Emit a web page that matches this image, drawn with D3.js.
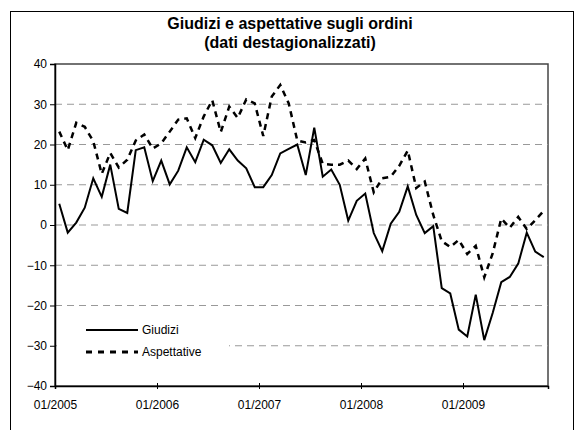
<!DOCTYPE html>
<html>
<head>
<meta charset="utf-8">
<script src="https://cdn.jsdelivr.net/npm/d3@7"></script>
<style>
  body { margin: 0; background: #fff; }
  svg { display: block; font-family: "Liberation Sans", Arial, sans-serif; }
</style>
</head>
<body>
<div id="chart"></div>
<script>
"use strict";

// Monthly series, 01/2005 - 10/2009
var startMonth = new Date(2005, 0, 1);
var endMonth = new Date(2009, 10, 1);

var giudizi = [
  5.3, -1.9, 0.6, 4.3, 11.6, 7, 15, 4, 3, 18.6, 19.3, 10.9,
  16, 10.1, 13.5, 19.3, 15.6, 21.2, 19.8, 15.4, 18.8, 16, 14.1, 9.4,
  9.4, 12.4, 17.8, 18.9, 20, 12.4, 24.2, 12, 13.8, 10, 1.1, 6,
  7.8, -2, -6.5, 0.3, 3.3, 9.6, 2.5, -2, -0.3, -15.7, -17, -26,
  -27.7, -17.3, -28.6, -21.8, -14.2, -12.9, -9.6, -1.9, -6.6, -8
];

var aspettative = [
  23.2, 18.6, 25.4, 24.4, 20.8, 12.7, 17.9, 14.3, 16.2, 21, 22.5, 19,
  20.3, 23.2, 26.2, 26.5, 21.6, 27, 31, 23.1, 29.4, 26.6, 31.2, 30.2,
  22.1, 31.9, 34.8, 30.2, 21, 20.5, 21.1, 15.2, 15, 15, 16, 13.9,
  16.5, 8.1, 11.6, 12, 14.7, 18.5, 9.2, 10.8, 2.5, -4, -5.5, -3.7,
  -7.2, -5.2, -13, -7, 1.6, -0.7, 2, -1, 1.2, 3.5
];

var yTicks = [-40, -30, -20, -10, 0, 10, 20, 30, 40];
var xTickLabels = ["01/2005", "01/2006", "01/2007", "01/2008", "01/2009"];
var seriesNames = ["Giudizi", "Aspettative"];

var width = 581, height = 430;
var margin = { top: 64, right: 33, bottom: 44, left: 55 };

var months = d3.timeMonth.range(startMonth, endMonth);
var fmt = d3.timeFormat("%m/%Y");

var svg = d3.select("#chart").append("svg")
  .attr("width", width)
  .attr("height", height);

// outer chart frame
svg.append("rect")
  .attr("x", 10.5).attr("y", 11.5)
  .attr("width", 563).attr("height", 430)
  .attr("fill", "none").attr("stroke", "#000");

svg.append("text")
  .attr("x", 290).attr("y", 29)
  .attr("text-anchor", "middle")
  .attr("font-size", 16).attr("font-weight", "bold")
  .text("Giudizi e aspettative sugli ordini");

svg.append("text")
  .attr("x", 290).attr("y", 48)
  .attr("text-anchor", "middle")
  .attr("font-size", 16).attr("font-weight", "bold")
  .text("(dati destagionalizzati)");

var x = d3.scaleLinear()
  .domain([0, months.length])
  .range([margin.left, width - margin.right]);

var y = d3.scaleLinear()
  .domain([-40, 40])
  .range([height - margin.bottom, margin.top]);

// plot area border
svg.append("rect")
  .attr("x", x(0)).attr("y", y(40))
  .attr("width", x(months.length) - x(0))
  .attr("height", y(-40) - y(40))
  .attr("fill", "none").attr("stroke", "#444").attr("stroke-width", 1.5);

// gridlines
svg.append("g")
  .selectAll("line")
  .data(yTicks.filter(function(d) { return d > -40 && d < 40; }))
  .enter().append("line")
  .attr("x1", x(0)).attr("x2", x(months.length))
  .attr("y1", function(d) { return y(d); })
  .attr("y2", function(d) { return y(d); })
  .attr("stroke", "#999")
  .attr("stroke-dasharray", "7,5");

var yAxis = svg.append("g")
  .attr("transform", "translate(" + x(0) + ",0)")
  .call(d3.axisLeft(y).tickValues(yTicks).tickSize(5).tickFormat(d3.format("d")));

var janIdx = xTickLabels.map(function(lbl) {
  return months.findIndex(function(m) { return fmt(m) === lbl; });
});

var xAxis = svg.append("g")
  .attr("transform", "translate(0," + y(-40) + ")")
  .call(d3.axisBottom(x).tickValues(janIdx).tickSize(3)
    .tickFormat(function(i) { return fmt(months[i]); }));

xAxis.selectAll(".tick line").attr("y1", -3);
xAxis.selectAll(".tick text").attr("dy", "1.05em").attr("y", 10);

[yAxis, xAxis].forEach(function(ax) {
  ax.selectAll(".domain").attr("stroke", "#000").attr("stroke-width", 1.5);
  ax.selectAll("text").attr("font-size", 12)
    .attr("font-family", "'Liberation Sans', Arial, sans-serif").attr("fill", "#000");
});

var line = d3.line()
  .x(function(d, i) { return x(i + 0.5); })
  .y(function(d) { return y(d); });

// legend box (white, covers gridline)
svg.append("rect")
  .attr("x", x(0) + 2).attr("y", 316)
  .attr("width", 172).attr("height", 46)
  .attr("fill", "#fff");

svg.append("path")
  .datum(aspettative)
  .attr("d", line)
  .attr("fill", "none")
  .attr("stroke", "#000")
  .attr("stroke-width", 2.5)
  .attr("stroke-dasharray", "6,5");

svg.append("path")
  .datum(giudizi)
  .attr("d", line)
  .attr("fill", "none")
  .attr("stroke", "#000")
  .attr("stroke-width", 2);

var legend = svg.append("g");
var legendY = [330, 352];
legend.selectAll("line")
  .data(seriesNames)
  .enter().append("line")
  .attr("x1", 86).attr("x2", 138)
  .attr("y1", function(d, i) { return legendY[i]; })
  .attr("y2", function(d, i) { return legendY[i]; })
  .attr("stroke", "#000")
  .attr("stroke-width", function(d, i) { return i ? 3 : 2; })
  .attr("stroke-dasharray", function(d, i) { return i ? "6,6" : null; });

legend.selectAll("text")
  .data(seriesNames)
  .enter().append("text")
  .attr("x", 142)
  .attr("y", function(d, i) { return legendY[i] + 4; })
  .attr("font-size", 12)
  .text(function(d) { return d; });
</script>
</body>
</html>
